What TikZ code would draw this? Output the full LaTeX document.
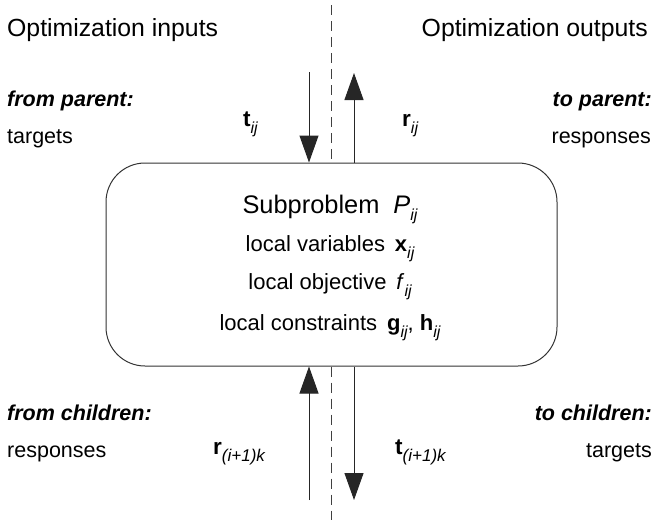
\documentclass[tikz,border=0pt]{standalone}
\usepackage{fontspec}
\setmainfont{Liberation Sans}
\usetikzlibrary{arrows.meta}
\newcommand{\myidx}[2][16]{\raisebox{-7.5pt}{\fontsize{#1}{#1}\selectfont\itshape #2}}
\begin{document}
\begin{tikzpicture}[x=1pt,y=-1pt,
  head/.style={inner sep=0pt, font=\fontsize{24.8}{30}\selectfont},
  lab/.style={inner sep=0pt, font=\fontsize{21.5}{26}\selectfont},
  labbi/.style={inner sep=0pt, font=\fontsize{21.5}{26}\selectfont\bfseries\itshape},
  var/.style={inner sep=0pt, font=\fontsize{22.5}{26}\selectfont},
  inbox/.style={inner sep=0pt, font=\fontsize{22}{26}\selectfont},
  subbox/.style={draw=black!80, line width=1pt, rounded corners=39pt, minimum width=451pt, minimum height=203pt, inner sep=0pt},
  arr/.style={draw=black!85, line width=1pt, -{Triangle[width=19pt,length=27pt]}},
  sep/.style={draw=black!75, line width=1pt, dash pattern=on 10pt off 6pt}
]
\useasboundingbox (0,0) rectangle (655,520);

% box
\node[subbox] (box) at (331.5,264.5) {};

% box texts
\node[inner sep=0pt, font=\fontsize{25.4}{30}\selectfont, anchor=base] (sp) at (330,213) {Subproblem\hspace{0.55em}\textit{P}\myidx[16]{ij}};
\node[inbox, anchor=base] (lv) at (330,251) {local variables\hspace{0.45em}\textbf{x}\myidx[16]{ij}};
\node[inbox, anchor=base] (lo) at (330,289) {local objective\hspace{0.45em}\textit{f}\myidx[16]{ij}};
\node[inbox, anchor=base] (lc) at (330,330) {local constraints\hspace{0.45em}\textbf{g}\myidx[16]{ij}, \textbf{h}\myidx[16]{ij}};

% headings
\node[head, anchor=base west] (inp) at (7,36) {Optimization inputs};
\node[head, anchor=base east] (outp) at (648,36) {Optimization outputs};

% side labels
\node[labbi, anchor=base west] (fp) at (7,106) {from parent:};
\node[lab, anchor=base west] (tg1) at (7,143) {targets};
\node[labbi, anchor=base east] (tp) at (652,106) {to parent:};
\node[lab, anchor=base east] (rs1) at (651,143) {responses};
\node[labbi, anchor=base west] (fc) at (7,420) {from children:};
\node[lab, anchor=base west] (rs2) at (7,457) {responses};
\node[labbi, anchor=base east] (tc) at (652,420) {to children:};
\node[lab, anchor=base east] (tg2) at (652,457) {targets};

% variable labels
\node[var, anchor=base west] (tij) at (243,126) {\textbf{t}\myidx{ij}};
\node[var, anchor=base west] (rij) at (402,126) {\textbf{r}\myidx{ij}};
\node[var, anchor=base west] (rk) at (213,454) {\textbf{r}\myidx[17]{(i+1)k}};
\node[var, anchor=base west] (tk) at (395,454) {\textbf{t}\myidx[17]{(i+1)k}};

% coordinates
\coordinate (dTop) at (331,5);
\coordinate (dBot) at (331,520);
\coordinate (tStart) at (309,72);
\coordinate (rEnd) at (354,73);
\coordinate (rkStart) at (309,500);
\coordinate (tkEnd) at (354,500);

% dashed separator
\draw[sep] (dTop) -- (dTop |- box.north);
\draw[sep] (dTop |- box.south) -- (dBot);

% arrows
\draw[arr] (tStart) -- (tStart |- box.north);
\draw[arr] (rEnd |- box.north) -- (rEnd);
\draw[arr] (rkStart) -- (rkStart |- box.south);
\draw[arr] (tkEnd |- box.south) -- (tkEnd);
\end{tikzpicture}
\end{document}
